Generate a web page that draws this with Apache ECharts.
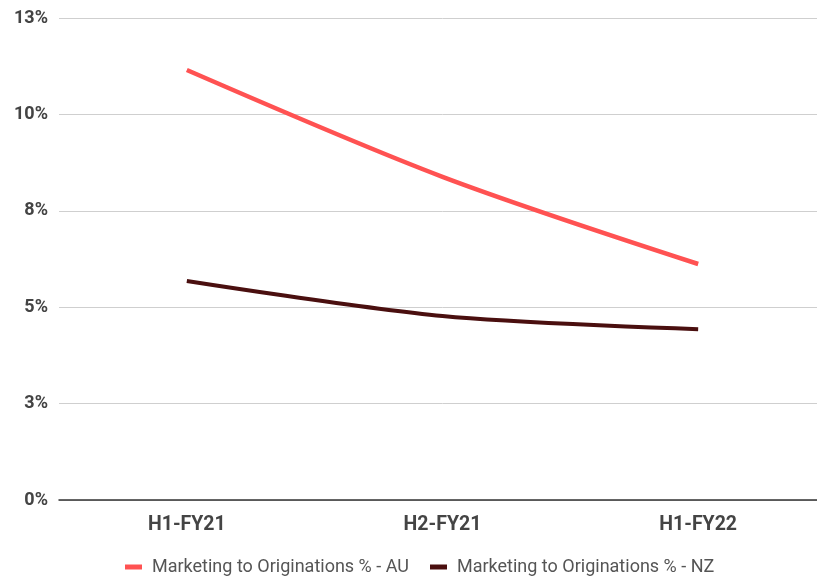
<!DOCTYPE html>
<html>
<head>
<meta charset="utf-8">
<script src="https://cdn.jsdelivr.net/npm/echarts@6/dist/echarts.min.js"></script>
<style>
  html, body { margin: 0; padding: 0; background: #fff; overflow: hidden; }
  /* the plot area runs slightly past the right edge of the page */
  #chart { width: 830px; height: 577px; }
</style>
</head>
<body>
<div id="chart"></div>
<script>
// Half-year periods on the x axis
const periods = ['H1-FY21', 'H2-FY21', 'H1-FY22'];
// Marketing spend as a share of originations (%)
const auValues = [11.15, 8.38, 6.12];
const nzValues = [5.68, 4.77, 4.43];
const seriesNames = ['Marketing to Originations % - AU', 'Marketing to Originations % - NZ'];
// Value axis range
const yMin = 0, yMax = 12.5, yStep = 2.5;

const chart = echarts.init(document.getElementById('chart'));
chart.setOption({
  animation: false,
  backgroundColor: '#ffffff',
  textStyle: { fontFamily: 'Roboto' },
  grid: { left: 59, top: 18, right: 4, height: 482, containLabel: false },
  legend: {
    top: 553,
    left: 120,
    itemWidth: 17,
    itemHeight: 5,
    itemGap: 21,
    icon: 'rect',
    textStyle: { fontSize: 18, color: '#555', fontFamily: 'Roboto', padding: [0, 0, 0, 5] },
    data: seriesNames
  },
  xAxis: {
    type: 'category',
    data: periods,
    boundaryGap: true,
    axisLine: { lineStyle: { color: '#333', width: 1.5 } },
    axisTick: { show: false },
    axisLabel: { fontSize: 19.5, fontWeight: 'bold', color: '#444', margin: 15 }
  },
  yAxis: {
    type: 'value',
    min: yMin,
    max: yMax,
    interval: yStep,
    axisLine: { show: false },
    axisTick: { show: false },
    splitLine: { lineStyle: { color: '#cfcfcf', width: 1 } },
    axisLabel: {
      fontSize: 18, fontWeight: 'bold', color: '#444', margin: 11,
      formatter: v => Math.round(v) + '%'
    }
  },
  series: [
    {
      name: seriesNames[0],
      type: 'line',
      data: auValues,
      smooth: 0.3,
      showSymbol: false,
      lineStyle: { color: '#ff5252', width: 4.5 },
      itemStyle: { color: '#ff5252' }
    },
    {
      name: seriesNames[1],
      type: 'line',
      data: nzValues,
      smooth: 0.3,
      showSymbol: false,
      lineStyle: { color: '#4a0f0f', width: 4 },
      itemStyle: { color: '#4a0f0f' }
    }
  ]
});
</script>
</body>
</html>
